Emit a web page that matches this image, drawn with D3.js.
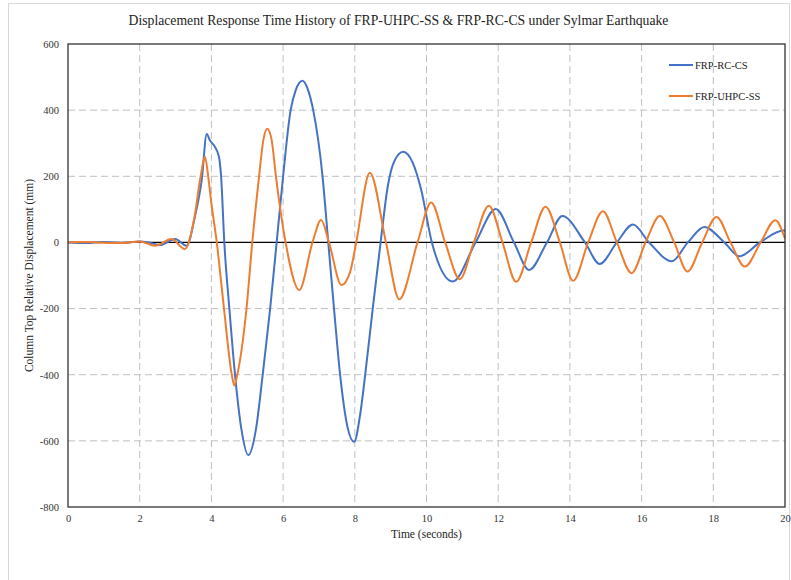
<!DOCTYPE html>
<html><head><meta charset="utf-8">
<script src="https://cdn.jsdelivr.net/npm/d3@7"></script>
<style>body{margin:0;background:#fff}svg{display:block;font-family:"Liberation Serif","Times New Roman",serif}</style>
</head><body><svg id="c" width="791" height="580"></svg>
<script>
const title = "Displacement Response Time History of FRP-UHPC-SS & FRP-RC-CS under Sylmar Earthquake";
const xTitle = "Time (seconds)";
const yTitle = "Column Top Relative Displacement (mm)";
const seriesNames = ["FRP-RC-CS", "FRP-UHPC-SS"];
const xTicks = [0,2,4,6,8,10,12,14,16,18,20];
const yTicks = [-800,-600,-400,-200,0,200,400,600];

const rcTime = [0,0.5,1.0,1.5,2.0,2.25,2.57,2.99,3.31,3.54,3.73,3.87,3.96,4.08,4.21,4.27,4.36,4.50,4.66,4.84,5.03,5.24,5.43,5.64,5.82,6.0,6.21,6.35,6.54,6.70,6.84,7.10,7.26,7.42,7.59,7.80,7.98,8.15,8.29,8.50,8.72,8.92,9.10,9.35,9.62,9.85,10.15,10.73,11.37,11.93,12.44,12.86,13.36,13.79,14.42,14.83,15.31,15.76,16.21,16.84,17.29,17.75,18.31,18.73,19.30,19.96,20.0];
const rcDisp = [0,-2,1,-2,3,0,-8,10,-10,78,189,328,308,292,259,200,0,-199,-401,-567,-643,-567,-401,-199,0,200,400,460,489,460,400,200,0,-200,-400,-560,-603,-520,-400,-200,0,170,245,274,240,160,0,-118,0,101,0,-83,0,80,0,-65,0,54,0,-57,0,47,0,-42,0,36,36];

const uhpcTime = [0,0.5,1.0,1.5,2.0,2.43,2.89,3.26,3.53,3.70,3.82,3.91,4.0,4.15,4.35,4.57,4.64,4.72,4.98,5.14,5.33,5.45,5.56,5.68,5.80,6.07,6.45,6.82,7.06,7.28,7.63,7.87,8.04,8.42,8.87,9.24,9.75,10.13,10.52,10.93,11.32,11.74,12.12,12.50,12.92,13.32,13.72,14.09,14.51,14.92,15.31,15.72,16.11,16.51,16.91,17.28,17.69,18.09,18.48,18.88,19.32,19.73,20.0];
const uhpcDisp = [0,1,-1,-2,3,-10,10,-20,78,200,259,200,118,0,-199,-401,-433,-401,-199,0,200,310,344,310,200,0,-144,0,68,0,-129,-89,0,211,0,-172,0,121,0,-111,0,111,0,-119,0,108,0,-116,0,94,0,-93,0,80,0,-88,0,77,0,-73,0,67,11];

const colors = ["#4472C4", "#ED7D31"];

const svg = d3.select("#c");
const m = {l:68, r:785, t:44, b:507};
const x = d3.scaleLinear().domain([0,20]).range([m.l, m.r]);
const y = d3.scaleLinear().domain([-800,600]).range([m.b, m.t]);

// outer border
svg.append("rect").attr("x",8.5).attr("y",3.5).attr("width",781).attr("height",600)
  .attr("fill","none").attr("stroke","#d9d9d9");

// title
svg.append("text").attr("x",398.5).attr("y",25).attr("text-anchor","middle")
  .attr("font-size",13.7).attr("fill","#222").text(title);

// grid
const grid = svg.append("g").attr("stroke","#bfbfbf").attr("stroke-dasharray","7,4").attr("stroke-width",1);
xTicks.filter(d=>d>0&&d<20).forEach(d=>grid.append("line").attr("x1",x(d)).attr("x2",x(d)).attr("y1",m.t).attr("y2",m.b));
yTicks.filter(d=>d!==0&&d>-800&&d<600).forEach(d=>grid.append("line").attr("x1",m.l).attr("x2",m.r).attr("y1",y(d)).attr("y2",y(d)));

// zero line
svg.append("line").attr("x1",m.l).attr("x2",m.r).attr("y1",y(0)).attr("y2",y(0)).attr("stroke","#000").attr("stroke-width",1.2);

// series
const line = d3.line().x(d=>x(d[0])).y(d=>y(d[1])).curve(d3.curveMonotoneX);
const rc = rcTime.map((t,i)=>[t, rcDisp[i]]);
const uh = uhpcTime.map((t,i)=>[t, uhpcDisp[i]]);
svg.append("defs").append("clipPath").attr("id","cp").append("rect").attr("x",m.l).attr("y",m.t).attr("width",m.r-m.l).attr("height",m.b-m.t);
const g = svg.append("g").attr("clip-path","url(#cp)");
g.append("path").datum(rc).attr("d",line).attr("fill","none").attr("stroke",colors[0]).attr("stroke-width",2);
g.append("path").datum(uh).attr("d",line).attr("fill","none").attr("stroke",colors[1]).attr("stroke-width",2);

// frame
svg.append("rect").attr("x",m.l).attr("y",m.t).attr("width",m.r-m.l).attr("height",m.b-m.t)
  .attr("fill","none").attr("stroke","#333").attr("stroke-width",1.3);

// axes
const xAxis = svg.append("g").attr("transform",`translate(0,${m.b})`)
  .call(d3.axisBottom(x).tickValues(xTicks).tickFormat(d=>String(d)).tickSize(0).tickPadding(8));
const yAxis = svg.append("g").attr("transform",`translate(${m.l},0)`)
  .call(d3.axisLeft(y).tickValues(yTicks).tickFormat(d=>String(d)).tickSize(0).tickPadding(9));
[xAxis,yAxis].forEach(a=>{a.select(".domain").remove();a.selectAll("text").attr("font-family","Liberation Serif, serif").attr("font-size",10.5).attr("fill","#333");});

// axis titles
svg.append("text").attr("x",(m.l+m.r)/2).attr("y",538).attr("text-anchor","middle").attr("font-size",11.5).attr("fill","#222").text(xTitle);
svg.append("text").attr("transform",`translate(33,${(m.t+m.b)/2}) rotate(-90)`).attr("text-anchor","middle").attr("font-size",11.5).attr("fill","#222").text(yTitle);

// legend
const lg = svg.append("g");
[65,96].forEach((yy,i)=>{
  lg.append("line").attr("x1",669).attr("x2",693).attr("y1",yy).attr("y2",yy).attr("stroke",colors[i]).attr("stroke-width",2);
  lg.append("text").attr("x",695).attr("y",yy+4).attr("font-size",10.5).attr("fill","#222").text(seriesNames[i]);
});
</script></body></html>
